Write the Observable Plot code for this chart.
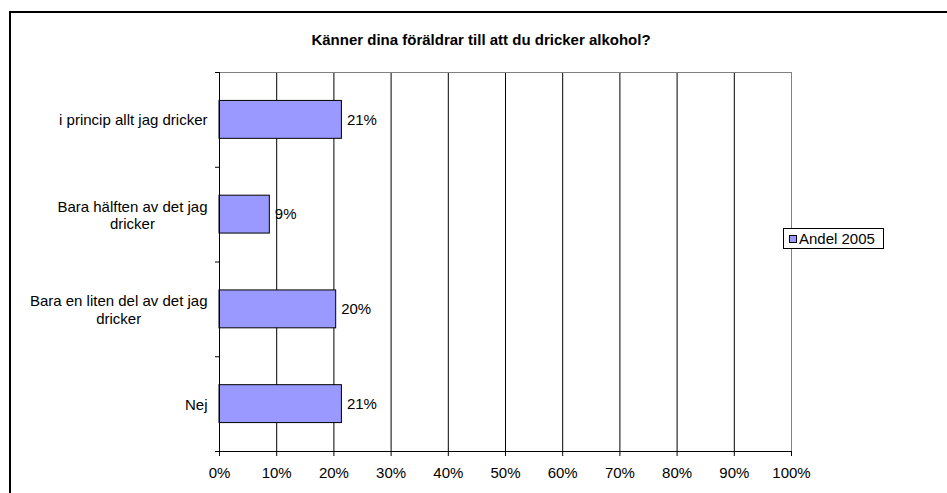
<!DOCTYPE html>
<html>
<head>
<meta charset="utf-8">
<script src="https://cdn.jsdelivr.net/npm/d3@7"></script>
<script src="https://cdn.jsdelivr.net/npm/@observablehq/plot@0.6"></script>
<style>
  html, body { margin: 0; padding: 0; background: #fff; overflow: hidden; width: 947px; height: 493px; }
  body { position: relative; font-family: "Liberation Sans", Arial, sans-serif; color: #000; }
  #frame { position: absolute; left: 9px; top: 11px; width: 1000px; height: 600px; border: 2px solid #000; box-sizing: border-box; }
  #title { position: absolute; left: 0; top: 32px; width: 962px; text-align: center; font-weight: bold; font-size: 15px; line-height: 15px; }
  #chart { position: absolute; left: 0; top: 0; }
  #legend { position: absolute; left: 783px; top: 228px; width: 101px; height: 21px; box-sizing: border-box; border: 1px solid #000; background: #fff;
            display: flex; align-items: center; padding-left: 5px; font-size: 15px; white-space: nowrap; }
  #legend .sw { width: 8px; height: 8px; box-sizing: border-box; border: 1px solid #000; margin-right: 2px; }
</style>
</head>
<body>
<div id="frame"></div>
<div id="chart"></div>
<div id="title"></div>
<div id="legend"></div>
<script>
const titleText = "Känner dina föräldrar till att du dricker alkohol?";
const categories = [
  "i princip allt jag dricker",
  "Bara hälften av det jag dricker",
  "Bara en liten del av det jag dricker",
  "Nej"
];
const values = [21.4, 8.8, 20.4, 21.4];
const valueLabels = ["21%", "9%", "20%", "21%"];
const xTicks = [0, 10, 20, 30, 40, 50, 60, 70, 80, 90, 100];
const seriesName = "Andel 2005";
const barColor = "#9999FF";

const data = categories.map((c, i) => ({cat: c, i, v: values[i], label: valueLabels[i]}));

document.getElementById("title").textContent = titleText;
const leg = document.getElementById("legend");
const sw = document.createElement("div");
sw.className = "sw";
sw.style.background = barColor;
leg.appendChild(sw);
leg.appendChild(document.createTextNode(seriesName));

const chart = Plot.plot({
  width: 947,
  height: 493,
  marginTop: 72,
  marginLeft: 219,
  marginRight: 156,
  marginBottom: 42,
  style: {fontFamily: "'Liberation Sans', Arial, sans-serif", fontSize: "15px", color: "#000", background: "transparent"},
  x: {domain: [0, 100], label: null},
  y: {domain: [0, categories.length], reverse: true, label: null},
  marks: [
    Plot.ruleX(xTicks.slice(1, -1), {stroke: "#000", strokeWidth: 1}),
    Plot.ruleX([100], {stroke: "#808080", strokeWidth: 1}),
    Plot.ruleY([0], {stroke: "#808080", strokeWidth: 1}),
    Plot.rectX(data, {x1: 0, x2: "v", y1: d => d.i + 0.3, y2: d => d.i + 0.7, fill: barColor, stroke: "#000", strokeWidth: 1}),
    Plot.text(data, {x: "v", y: d => d.i + 0.5, text: "label", textAnchor: "start", dx: 5, fill: "#000"}),
    Plot.text(data, {x: 0, y: d => d.i + 0.5, text: "cat", textAnchor: "end", dx: -12, lineWidth: 13, lineHeight: 1.15, fill: "#000"}),
    Plot.ruleY([categories.length], {stroke: "#000", strokeWidth: 1}),
    Plot.ruleX([0], {stroke: "#000", strokeWidth: 1}),
    Plot.axisX({ticks: xTicks, tickFormat: d => d + "%", tickSize: 5, tickPadding: 11, stroke: "#000", fill: "#000", label: null}),
    Plot.axisY({ticks: d3.range(categories.length + 1), tickFormat: () => "", tickSize: 4, stroke: "#000", label: null})
  ]
});
document.getElementById("chart").appendChild(chart);

// center wrapped lines of each category label relative to each other, block right-aligned
chart.querySelectorAll("text").forEach(t => {
  const spans = t.querySelectorAll("tspan");
  if (spans.length > 1) {
    const w = Math.max(...Array.from(spans, s => s.getComputedTextLength()));
    t.setAttribute("text-anchor", "middle");
    t.style.textAnchor = "middle";
    spans.forEach(s => s.setAttribute("x", -w / 2));
  }
});
</script>
</body>
</html>
